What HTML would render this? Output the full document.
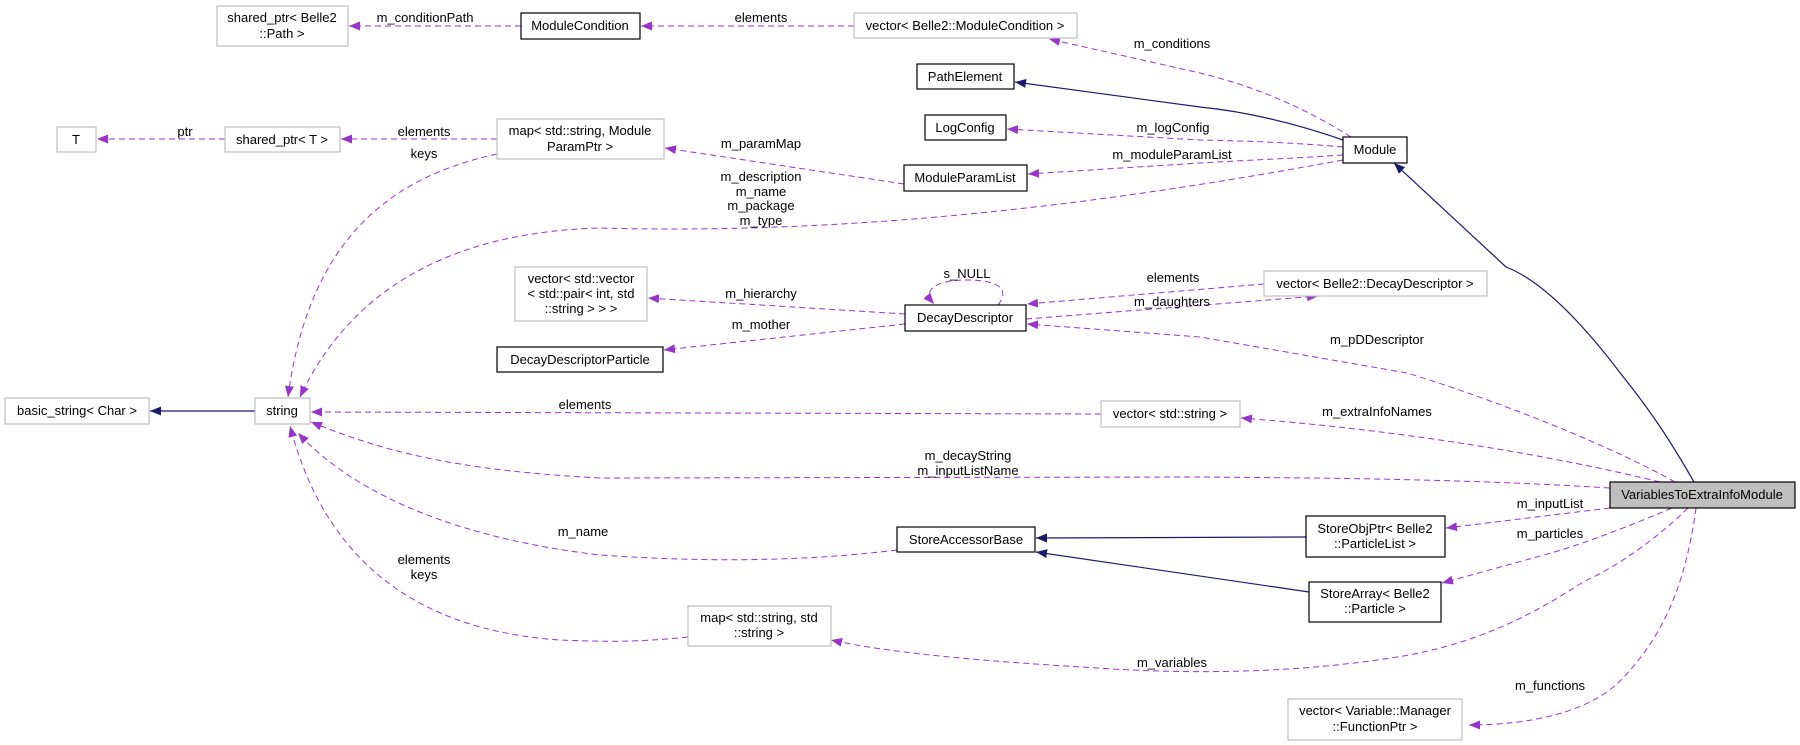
<!DOCTYPE html>
<html><head><meta charset="utf-8"><style>
html,body{margin:0;padding:0;background:#fff;}
svg{display:block;}
text{font-family:"Liberation Sans",Arial,sans-serif;font-size:13px;fill:#000;}
.b{fill:#fff;stroke:#000;stroke-width:1.2;}
.g{fill:#fff;stroke:#bfbfbf;stroke-width:1.2;}
.d{fill:none;stroke:#9a32cd;stroke-width:1;stroke-dasharray:6,4;marker-end:url(#ap);}
.s{fill:none;stroke:#191970;stroke-width:1.2;marker-end:url(#an);}
</style></head><body>
<svg width="1800" height="745" viewBox="0 0 1800 745" xmlns="http://www.w3.org/2000/svg">
<defs>
<marker id="ap" markerUnits="userSpaceOnUse" markerWidth="12" markerHeight="9" refX="11" refY="4.5" orient="auto"><path d="M0,0 L11,4.5 L0,9 z" fill="#9a32cd"/></marker>
<marker id="an" markerUnits="userSpaceOnUse" markerWidth="12" markerHeight="9" refX="11" refY="4.5" orient="auto"><path d="M0,0 L11,4.5 L0,9 z" fill="#191970"/></marker>
</defs>

<path class="d" d="M521,26 L349,26"/>
<text x="425" y="22" text-anchor="middle">m_conditionPath</text>
<path class="d" d="M854,26 L641,26"/>
<text x="761" y="22" text-anchor="middle">elements</text>
<path class="d" d="M1351,137 C1300,105 1250,85 1200,73 L1049,39"/>
<text x="1172" y="48" text-anchor="middle">m_conditions</text>
<path class="s" d="M1343,140 C1300,125 1250,112 1200,107 L1015,82"/>
<path class="d" d="M1343,147 C1300,143 1250,141 1200,140 L1007,129"/>
<text x="1173" y="132" text-anchor="middle">m_logConfig</text>
<path class="d" d="M1343,155 C1300,158 1250,160 1200,163 L1028,174"/>
<text x="1172" y="159" text-anchor="middle">m_moduleParamList</text>
<path class="d" d="M1343,160 C1100,205 850,235 600,228 C450,232 350,290 300,397"/>
<text x="761" y="181" text-anchor="middle">m_description</text>
<text x="761" y="196" text-anchor="middle">m_name</text>
<text x="761" y="210" text-anchor="middle">m_package</text>
<text x="761" y="225" text-anchor="middle">m_type</text>
<path class="d" d="M497,139 L341,139"/>
<text x="424" y="136" text-anchor="middle">elements</text>
<path class="d" d="M225,139 L97,139"/>
<text x="185" y="136" text-anchor="middle">ptr</text>
<path class="d" d="M497,154 C400,175 310,230 288,397"/>
<text x="424" y="158" text-anchor="middle">keys</text>
<path class="d" d="M904,184 L665,148"/>
<text x="761" y="148" text-anchor="middle">m_paramMap</text>
<path class="d" d="M905,314 L648,298"/>
<text x="761" y="298" text-anchor="middle">m_hierarchy</text>
<path class="d" d="M905,324 L664,350"/>
<text x="761" y="329" text-anchor="middle">m_mother</text>
<path class="d" d="M998,305 C1010,290 1000,280 967,280 C935,280 922,290 934,304"/>
<text x="967" y="278" text-anchor="middle">s_NULL</text>
<path class="d" d="M1264,284 L1027,304"/>
<text x="1173" y="282" text-anchor="middle">elements</text>
<path class="d" d="M1026,319 L1318,296"/>
<text x="1172" y="306" text-anchor="middle">m_daughters</text>
<path class="d" d="M1675,482 C1600,440 1480,395 1407,373 L1200,337 L1027,324"/>
<text x="1377" y="344" text-anchor="middle">m_pDDescriptor</text>
<path class="d" d="M1101,414 L311,412"/>
<text x="585" y="409" text-anchor="middle">elements</text>
<path class="d" d="M1660,482 C1550,455 1400,430 1241,418"/>
<text x="1377" y="416" text-anchor="middle">m_extraInfoNames</text>
<path class="d" d="M1610,488 C1450,478 1300,478 1200,477 L600,478 C450,470 380,450 311,422"/>
<text x="968" y="460" text-anchor="middle">m_decayString</text>
<text x="968" y="475" text-anchor="middle">m_inputListName</text>
<path class="d" d="M897,550 C800,562 700,562 600,555 C470,540 360,500 298,433"/>
<text x="583" y="536" text-anchor="middle">m_name</text>
<path class="d" d="M688,637 C640,642 610,642 560,640 C440,632 330,580 290,426"/>
<text x="424" y="564" text-anchor="middle">elements</text>
<text x="424" y="579" text-anchor="middle">keys</text>
<path class="s" d="M1306,537 L1036,538"/>
<path class="s" d="M1309,592 L1036,552"/>
<path class="d" d="M1610,508 L1446,528"/>
<text x="1550" y="508" text-anchor="middle">m_inputList</text>
<path class="d" d="M1672,508 C1620,530 1580,545 1544,555 L1442,583"/>
<text x="1550" y="538" text-anchor="middle">m_particles</text>
<path class="d" d="M1688,508 C1650,545 1610,570 1583,582 C1540,610 1480,645 1391,658 C1300,672 1200,675 1097,668 C1000,662 900,655 831,640"/>
<text x="1172" y="667" text-anchor="middle">m_variables</text>
<path class="d" d="M1696,508 C1685,590 1660,640 1621,680 C1590,712 1530,725 1469,725"/>
<text x="1550" y="690" text-anchor="middle">m_functions</text>
<path class="s" d="M1694,482 C1670,440 1650,410 1621,374 C1580,320 1540,280 1506,267 L1394,163"/>
<path class="s" d="M255,411 L150,411"/>

<rect class="g" x="217" y="6" width="131" height="40"/>
<text x="282" y="22" text-anchor="middle">shared_ptr&lt; Belle2</text>
<text x="282" y="38" text-anchor="middle">::Path &gt;</text>
<rect class="b" x="521" y="13" width="119" height="26"/>
<text x="580" y="30" text-anchor="middle">ModuleCondition</text>
<rect class="g" x="854" y="13" width="223" height="25"/>
<text x="965" y="30" text-anchor="middle">vector&lt; Belle2::ModuleCondition &gt;</text>
<rect class="b" x="917" y="64" width="97" height="25"/>
<text x="965" y="81" text-anchor="middle">PathElement</text>
<rect class="g" x="57" y="127" width="39" height="25"/>
<text x="76" y="144" text-anchor="middle">T</text>
<rect class="g" x="225" y="127" width="115" height="25"/>
<text x="282" y="144" text-anchor="middle">shared_ptr&lt; T &gt;</text>
<rect class="g" x="497" y="119" width="167" height="40"/>
<text x="580" y="135" text-anchor="middle">map&lt; std::string, Module</text>
<text x="580" y="151" text-anchor="middle">ParamPtr &gt;</text>
<rect class="b" x="925" y="115" width="81" height="25"/>
<text x="965" y="132" text-anchor="middle">LogConfig</text>
<rect class="b" x="1343" y="137" width="64" height="26"/>
<text x="1375" y="154" text-anchor="middle">Module</text>
<rect class="b" x="904" y="165" width="123" height="26"/>
<text x="965" y="182" text-anchor="middle">ModuleParamList</text>
<rect class="g" x="515" y="267" width="132" height="54"/>
<text x="581" y="283" text-anchor="middle">vector&lt; std::vector</text>
<text x="581" y="298" text-anchor="middle">&lt; std::pair&lt; int, std</text>
<text x="581" y="313" text-anchor="middle">::string &gt; &gt; &gt;</text>
<rect class="b" x="905" y="305" width="121" height="26"/>
<text x="965" y="322" text-anchor="middle">DecayDescriptor</text>
<rect class="g" x="1264" y="271" width="223" height="25"/>
<text x="1375" y="288" text-anchor="middle">vector&lt; Belle2::DecayDescriptor &gt;</text>
<rect class="b" x="497" y="347" width="166" height="25"/>
<text x="580" y="364" text-anchor="middle">DecayDescriptorParticle</text>
<rect class="g" x="5" y="398" width="144" height="26"/>
<text x="77" y="415" text-anchor="middle">basic_string&lt; Char &gt;</text>
<rect class="g" x="255" y="398" width="55" height="26"/>
<text x="282" y="415" text-anchor="middle">string</text>
<rect class="g" x="1101" y="401" width="139" height="26"/>
<text x="1170" y="418" text-anchor="middle">vector&lt; std::string &gt;</text>
<rect x="1610" y="482" width="185" height="26" fill="#bfbfbf" stroke="#000" stroke-width="1.2"/>
<text x="1702" y="499" text-anchor="middle">VariablesToExtraInfoModule</text>
<rect class="b" x="897" y="527" width="138" height="25"/>
<text x="966" y="544" text-anchor="middle">StoreAccessorBase</text>
<rect class="b" x="1306" y="516" width="139" height="41"/>
<text x="1375" y="533" text-anchor="middle">StoreObjPtr&lt; Belle2</text>
<text x="1375" y="548" text-anchor="middle">::ParticleList &gt;</text>
<rect class="b" x="1309" y="582" width="132" height="40"/>
<text x="1375" y="598" text-anchor="middle">StoreArray&lt; Belle2</text>
<text x="1375" y="613" text-anchor="middle">::Particle &gt;</text>
<rect class="g" x="688" y="606" width="143" height="40"/>
<text x="759" y="622" text-anchor="middle">map&lt; std::string, std</text>
<text x="759" y="637" text-anchor="middle">::string &gt;</text>
<rect class="g" x="1288" y="699" width="174" height="41"/>
<text x="1375" y="715" text-anchor="middle">vector&lt; Variable::Manager</text>
<text x="1375" y="731" text-anchor="middle">::FunctionPtr &gt;</text>
</svg>
</body></html>
